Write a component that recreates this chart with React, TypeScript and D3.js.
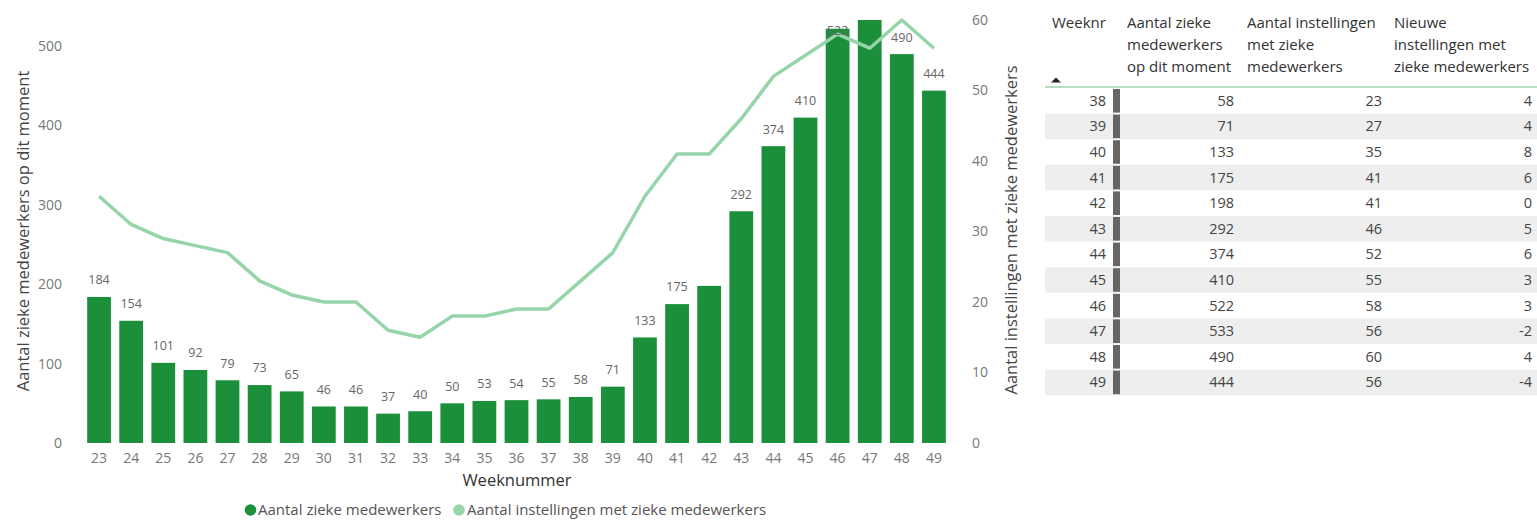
import React from "react";
import * as d3 from "d3";

const weeks = [23, 24, 25, 26, 27, 28, 29, 30, 31, 32, 33, 34, 35, 36, 37, 38, 39, 40, 41, 42, 43, 44, 45, 46, 47, 48, 49];
const sickStaff = [184, 154, 101, 92, 79, 73, 65, 46, 46, 37, 40, 50, 53, 54, 55, 58, 71, 133, 175, 198, 292, 374, 410, 522, 533, 490, 444];
const institutions = [35, 31, 29, 28, 27, 23, 21, 20, 20, 16, 15, 18, 18, 19, 19, 23, 27, 35, 41, 41, 46, 52, 55, 58, 56, 60, 56];
const hiddenLabelWeeks = [42, 47];
const leftTicks = [0, 100, 200, 300, 400, 500];
const rightTicks = [0, 10, 20, 30, 40, 50, 60];

const tableWeeks = [38, 39, 40, 41, 42, 43, 44, 45, 46, 47, 48, 49];
const newInstitutions = [4, 4, 8, 6, 0, 5, 6, 3, 3, -2, 4, -4];
const tableHeaders = [
  ["Weeknr"],
  ["Aantal zieke", "medewerkers", "op dit moment"],
  ["Aantal instellingen", "met zieke", "medewerkers"],
  ["Nieuwe", "instellingen met", "zieke medewerkers"],
];

const legendItems = ["Aantal zieke medewerkers", "Aantal instellingen met zieke medewerkers"];

const BAR = "#1b8f3a";
const LINE = "#96d4aa";
const FONT = "'Open Sans', 'Noto Sans', sans-serif";

export default function App() {
  const W = 1537, H = 521;
  const y0 = 443, y1 = 20;
  const x = d3.scaleBand<number>().domain(weeks).range([83, 950]).paddingInner(0.26).paddingOuter(0.13);
  const yL = d3.scaleLinear().domain([0, d3.max(sickStaff) as number]).range([y0, y1]);
  const yR = d3.scaleLinear().domain([0, 60]).range([y0, y1]);
  const bw = x.bandwidth();
  const cx = (w: number) => (x(w) as number) + bw / 2;
  const line = d3.line<number>().x((_, i) => cx(weeks[i])).y((d) => yR(d));

  const rowTop = 88, rowH = 25.6;
  const colLeft = [1052, 1127, 1247, 1394];

  return (
    <svg width={W} height={H} style={{ position: "absolute", left: 0, top: 0, background: "#fff" }} fontFamily={FONT}>
      {/* axes ticks */}
      {leftTicks.map((t) => (
        <text key={"l" + t} x={62} y={yL(t)} dy="0.35em" textAnchor="end" fontSize={14} fill="#777">{t}</text>
      ))}
      {rightTicks.map((t) => (
        <text key={"r" + t} x={972} y={yR(t)} dy="0.35em" textAnchor="start" fontSize={14} fill="#777">{t}</text>
      ))}
      <text transform={`translate(23,231) rotate(-90)`} textAnchor="middle" dy="0.35em" fontSize={16.5} fill="#444">Aantal zieke medewerkers op dit moment</text>
      <text transform={`translate(1011,230) rotate(-90)`} textAnchor="middle" dy="0.35em" fontSize={16.5} fill="#444">Aantal instellingen met zieke medewerkers</text>

      {/* bars */}
      {sickStaff.map((v, i) => (
        <rect key={"b" + i} x={x(weeks[i])} y={yL(v)} width={bw} height={y0 - yL(v)} fill={BAR} />
      ))}
      {/* line */}
      <path d={line(institutions) || ""} fill="none" stroke={LINE} strokeWidth={3.5} strokeLinejoin="round" />
      {/* labels */}
      {sickStaff.map((v, i) =>
        hiddenLabelWeeks.includes(weeks[i]) ? null : (
          <text key={"v" + i} x={cx(weeks[i])} y={Math.max(yL(v) - 17, 31)} dy="0.35em" textAnchor="middle" fontSize={12.5} fill="#666">{v}</text>
        )
      )}
      {/* x axis */}
      {weeks.map((w) => (
        <text key={"x" + w} x={cx(w)} y={458} dy="0.35em" textAnchor="middle" fontSize={14} fill="#777">{w}</text>
      ))}
      <text x={517} y={480} dy="0.35em" textAnchor="middle" fontSize={16.5} fill="#333">Weeknummer</text>

      {/* legend */}
      <circle cx={250.5} cy={510} r={5.8} fill={BAR} />
      <text x={258} y={510} dy="0.35em" fontSize={15} fill="#555">{legendItems[0]}</text>
      <circle cx={459} cy={510} r={5.8} fill={LINE} />
      <text x={467} y={510} dy="0.35em" fontSize={15} fill="#555">{legendItems[1]}</text>

      {/* table */}
      {tableHeaders.map((lines, c) =>
        lines.map((l, j) => (
          <text key={"h" + c + j} x={colLeft[c]} y={28 + j * 22} fontSize={15} fill="#333">{l}</text>
        ))
      )}
      <path d="M1051,82.5 L1061,82.5 L1056,77.5 Z" fill="#222" />
      <line x1={1045} x2={1537} y1={87} y2={87} stroke="#b5dfc0" strokeWidth={2} />
      {tableWeeks.map((w, r) => {
        const i = weeks.indexOf(w);
        const top = rowTop + r * rowH;
        const cy = top + rowH / 2;
        return (
          <g key={"row" + w}>
            {r % 2 === 1 && <rect x={1045} y={top} width={W - 1045} height={rowH} fill="#eeeeee" />}
            <rect x={1113} y={top + 1} width={7} height={rowH - 2} fill="#666" />
            <text x={1106} y={cy} dy="0.35em" textAnchor="end" fontSize={14.5} fill="#444">{w}</text>
            <text x={1234} y={cy} dy="0.35em" textAnchor="end" fontSize={14.5} fill="#444">{sickStaff[i]}</text>
            <text x={1382} y={cy} dy="0.35em" textAnchor="end" fontSize={14.5} fill="#444">{institutions[i]}</text>
            <text x={1532} y={cy} dy="0.35em" textAnchor="end" fontSize={14.5} fill="#444">{newInstitutions[r]}</text>
          </g>
        );
      })}
    </svg>
  );
}
